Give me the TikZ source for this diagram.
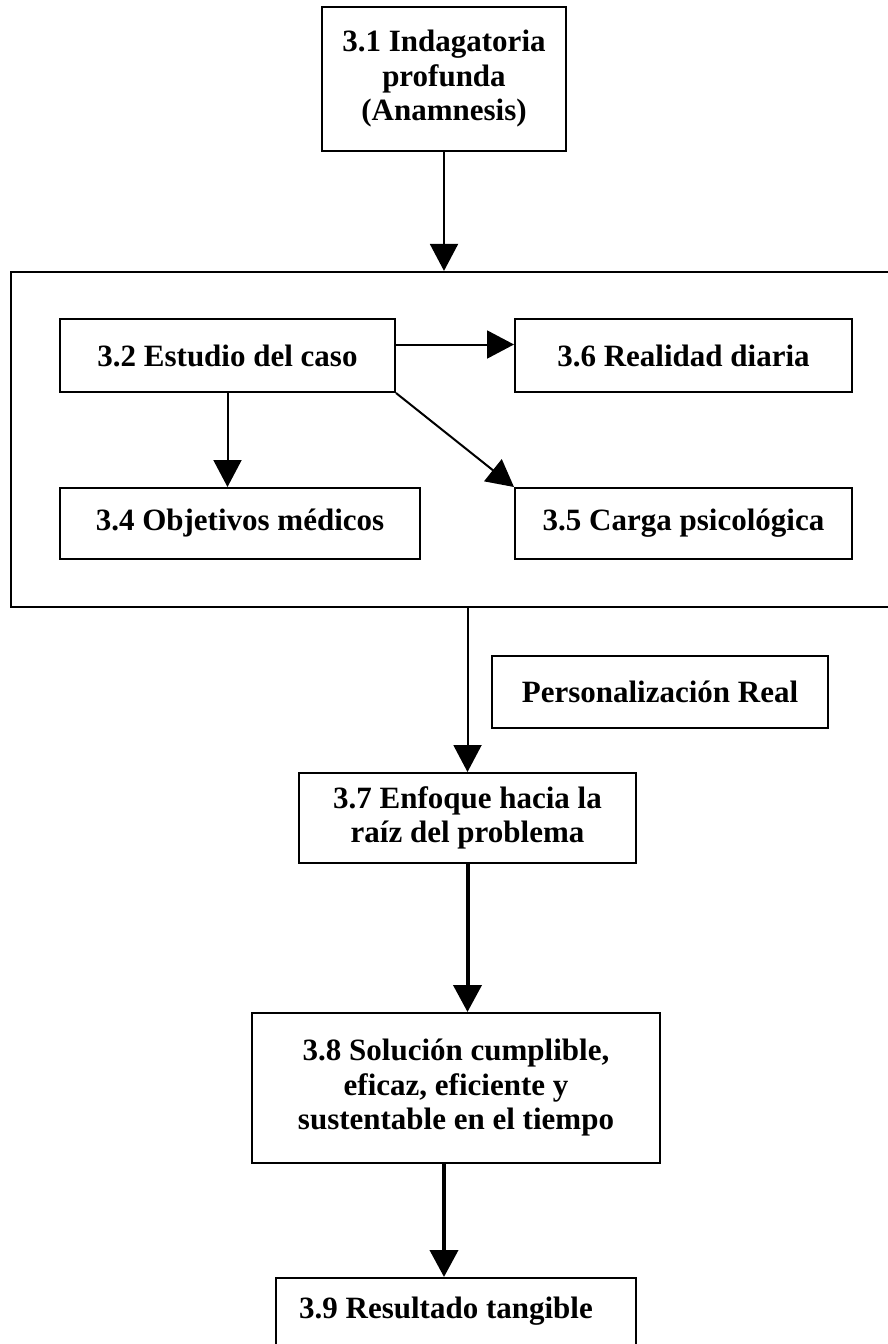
\documentclass[tikz,border=0pt]{standalone}
\usepackage{fontspec}
\setmainfont{Liberation Serif}
\usetikzlibrary{arrows.meta}
\begin{document}
\begin{tikzpicture}[x=1pt,y=-1pt,
  box/.style={draw, line width=2pt, align=center, inner sep=0pt,
    font=\bfseries\fontsize{31}{34.5}\selectfont},
  arr/.style={line width=2pt, -{Triangle[width=28pt,length=27pt]}},
  bigarr/.style={line width=4pt, -{Triangle[width=28pt,length=27pt]}},
  plain/.style={line width=2pt}]
\useasboundingbox (0,0) rectangle (888,1344);
\fill[white] (0,0) rectangle (888,1344);

\node[box, minimum width=244pt, minimum height=144pt] (n1) at (444,79)
  {3.1 Indagatoria\\profunda\\(Anamnesis)};
\node[draw, line width=2.2pt, minimum width=884pt, minimum height=335pt, inner sep=0pt] (grp) at (453,439.5) {};
\node[box, minimum width=335pt, minimum height=73pt] (n2) at (227.5,355.5) {3.2 Estudio del caso};
\node[box, minimum width=337pt, minimum height=73pt] (n6) at (683.5,355.5) {3.6 Realidad diaria};
\node[box, minimum width=360pt, minimum height=71pt] (n4) at (240,523.5) {3.4 Objetivos médicos};
\node[box, minimum width=337pt, minimum height=71pt] (n5) at (683.5,523.5) {3.5 Carga psicológica};
\node[box, minimum width=336pt, minimum height=72pt] (pr) at (660,692) {Personalización Real};
\node[box, minimum width=337pt, minimum height=90pt] (n7) at (467.5,818) {3.7 Enfoque hacia la\\raíz del problema};
\node[box, minimum width=408pt, minimum height=150pt] (n8) at (456,1088) {3.8 Solución cumplible,\\eficaz, eficiente y\\sustentable en el tiempo};
\node[box, anchor=north, minimum width=360pt, inner ysep=10pt,
  text height=30pt, text depth=40pt] (n9) at (456,1277) {\hspace*{-20pt}3.9 Resultado tangible};

\draw[arr] (n1.south) -- (n1.south |- grp.north);
\draw[arr] ([yshift=11pt]n2.east) -- ([yshift=11pt]n6.west);
\draw[arr] (n2.south) -- (n2.south |- n4.north);
\draw[arr] (n2.south east) -- (n5.north west);
\draw[arr] (n7.north |- grp.south) -- (n7.north);
\draw[bigarr] (n7.south) -- (n7.south |- n8.north);
\draw[bigarr] ([xshift=-12pt]n8.south) -- ([xshift=-12pt]n8.south |- n9.north);
\end{tikzpicture}
\end{document}
